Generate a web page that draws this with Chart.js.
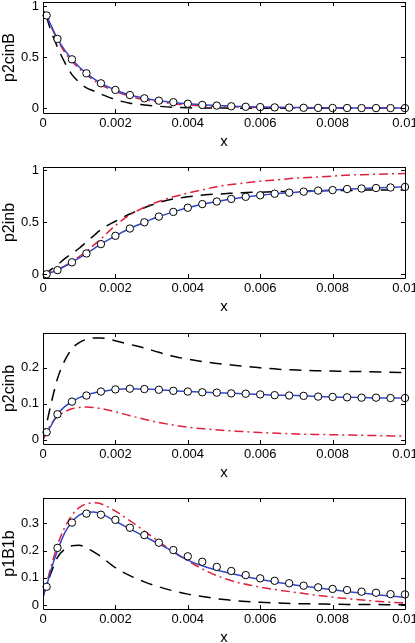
<!DOCTYPE html>
<html>
<head>
<meta charset="utf-8">
<script src="https://cdn.jsdelivr.net/npm/chart.js@4.4.1/dist/chart.umd.min.js"></script>
<style>
    html, body { margin: 0; padding: 0; background: #fff; width: 415px; height: 643px; overflow: hidden; }
    .panel { position: absolute; left: 0; width: 415px; height: 157px; }
    #p1 { top: -4px; }
    #p2 { top: 161px; }
    #p3 { top: 326.5px; }
    #p4 { top: 492px; }
</style>
</head>
<body>
<div class="panel" id="p1"><canvas id="c1"></canvas></div>
<div class="panel" id="p2"><canvas id="c2"></canvas></div>
<div class="panel" id="p3"><canvas id="c3"></canvas></div>
<div class="panel" id="p4"><canvas id="c4"></canvas></div>
<script>
// x positions of the curves and of the circle markers
var lineX = [0, 0.0001, 0.0002, 0.0004, 0.0006, 0.0008, 0.001, 0.0012, 0.0014, 0.0016, 0.002, 0.0024, 0.0028,
    0.0032, 0.0036, 0.004, 0.0045, 0.005, 0.0055, 0.006, 0.0065, 0.007, 0.0075, 0.008, 0.0085, 0.009, 0.0095, 0.01];
var markX = [0.0001, 0.0004, 0.0008, 0.0012, 0.0016, 0.002, 0.0024, 0.0028, 0.0032, 0.0036, 0.004, 0.0044, 0.0048,
    0.0052, 0.0056, 0.006, 0.0064, 0.0068, 0.0072, 0.0076, 0.008, 0.0084, 0.0088, 0.0092, 0.0096, 0.01];
var xTicks = [0, 0.002, 0.004, 0.006, 0.008, 0.01];
var xTickLabels = ['0', '0.002', '0.004', '0.006', '0.008', '0.01'];

// panel 1: p2cinB
var blue1 = [0.96, 0.91, 0.83, 0.68, 0.57, 0.48, 0.405, 0.343, 0.29, 0.245, 0.18, 0.13, 0.098, 0.075, 0.058, 0.045,
    0.033, 0.024, 0.018, 0.013, 0.01, 0.008, 0.006, 0.005, 0.004, 0.003, 0.0025, 0.002];
var red1 = [0.96, 0.9, 0.82, 0.67, 0.55, 0.46, 0.39, 0.33, 0.275, 0.23, 0.165, 0.118, 0.085, 0.062, 0.045, 0.033,
    0.023, 0.016, 0.011, 0.008, 0.006, 0.004, 0.003, 0.002, 0.0015, 0.001, 0.001, 0.001];
var black1 = [null, 0.9, 0.78, 0.6, 0.45, 0.33, 0.255, 0.2, 0.17, 0.14, 0.085, 0.05, 0.033, 0.02, 0.01, 0.005,
    0.003, 0.002, 0.001, 0.001, 0, 0, 0, 0, 0, 0, 0, 0];
var mark1 = [0.91, 0.68, 0.48, 0.343, 0.245, 0.18, 0.13, 0.098, 0.075, 0.06, 0.045, 0.033, 0.027, 0.02, 0.015,
    0.012, 0.009, 0.007, 0.005, 0.004, 0.003, 0.003, 0.002, 0.002, 0.002, 0.002];
var yTicks1 = [0, 0.5, 1];
var yTickLabels1 = ['0', '0.5', '1'];

// panel 2: p2inb
var blue2 = [0, 0.005, 0.015, 0.04, 0.075, 0.115, 0.158, 0.2, 0.245, 0.29, 0.37, 0.44, 0.5, 0.555, 0.6, 0.64,
    0.68, 0.712, 0.738, 0.76, 0.777, 0.79, 0.802, 0.81, 0.82, 0.828, 0.835, 0.84];
var red2 = [0, 0.005, 0.02, 0.045, 0.08, 0.12, 0.17, 0.22, 0.28, 0.34, 0.47, 0.57, 0.645, 0.7, 0.745, 0.78,
    0.82, 0.855, 0.875, 0.895, 0.91, 0.925, 0.935, 0.945, 0.955, 0.96, 0.965, 0.97];
var black2 = [0, 0.015, 0.04, 0.09, 0.15, 0.2, 0.25, 0.31, 0.37, 0.43, 0.51, 0.58, 0.64, 0.69, 0.725, 0.745,
    0.765, 0.775, 0.785, 0.79, 0.795, 0.8, 0.8, 0.805, 0.805, 0.81, 0.81, 0.81];
var mark2 = [0, 0.04, 0.115, 0.2, 0.29, 0.37, 0.44, 0.5, 0.555, 0.6, 0.64, 0.675, 0.7, 0.725, 0.745, 0.76,
    0.775, 0.785, 0.795, 0.805, 0.81, 0.82, 0.825, 0.83, 0.835, 0.84];
var yTicks2 = [0, 0.5, 1];
var yTickLabels2 = ['0', '0.5', '1'];

// panel 3: p2cinb
var blue3 = [0.01, 0.021, 0.035, 0.071, 0.092, 0.106, 0.117, 0.124, 0.13, 0.134, 0.14, 0.142, 0.141, 0.139, 0.136,
    0.134, 0.132, 0.13, 0.128, 0.126, 0.124, 0.123, 0.121, 0.119, 0.118, 0.117, 0.116, 0.116];
var red3 = [0, 0.02, 0.04, 0.065, 0.078, 0.086, 0.09, 0.091, 0.09, 0.087, 0.078, 0.067, 0.057, 0.048, 0.041,
    0.035, 0.03, 0.026, 0.023, 0.02, 0.018, 0.016, 0.015, 0.014, 0.013, 0.012, 0.011, 0.01];
var black3 = [0, 0.045, 0.09, 0.17, 0.22, 0.253, 0.27, 0.279, 0.283, 0.283, 0.275, 0.265, 0.255, 0.243, 0.232,
    0.224, 0.216, 0.21, 0.205, 0.2, 0.196, 0.194, 0.192, 0.191, 0.19, 0.189, 0.188, 0.187];
var mark3 = [0.021, 0.071, 0.106, 0.123, 0.134, 0.14, 0.142, 0.141, 0.139, 0.136, 0.134, 0.132, 0.131, 0.129,
    0.128, 0.126, 0.124, 0.123, 0.122, 0.12, 0.119, 0.118, 0.117, 0.117, 0.116, 0.116];
var yTicks3 = [0, 0.1, 0.2];
var yTickLabels3 = ['0', '0.1', '0.2'];

// panel 4: p1B1b
var blue4 = [0.03, 0.07, 0.12, 0.2, 0.265, 0.305, 0.33, 0.341, 0.342, 0.336, 0.308, 0.28, 0.252, 0.225, 0.196,
    0.165, 0.14, 0.122, 0.107, 0.094, 0.083, 0.073, 0.064, 0.056, 0.048, 0.041, 0.034, 0.028];
var red4 = [0.03, 0.08, 0.13, 0.22, 0.285, 0.33, 0.358, 0.372, 0.376, 0.372, 0.345, 0.31, 0.272, 0.233, 0.195,
    0.163, 0.126, 0.098, 0.079, 0.066, 0.055, 0.046, 0.037, 0.029, 0.022, 0.016, 0.011, 0.007];
var black4 = [0.03, 0.075, 0.11, 0.175, 0.205, 0.218, 0.22, 0.21, 0.195, 0.178, 0.137, 0.108, 0.085, 0.067, 0.052,
    0.04, 0.029, 0.02, 0.014, 0.01, 0.007, 0.005, 0.004, 0.003, 0.002, 0.002, 0.001, 0.001];
var mark4 = [0.067, 0.21, 0.303, 0.336, 0.332, 0.313, 0.284, 0.257, 0.229, 0.202, 0.179, 0.159, 0.14, 0.125,
    0.11, 0.098, 0.089, 0.08, 0.071, 0.065, 0.059, 0.055, 0.049, 0.045, 0.04, 0.039];
var yTicks4 = [0, 0.1, 0.2, 0.3];
var yTickLabels4 = ['0', '0.1', '0.2', '0.3'];

Chart.defaults.font.family = '"Liberation Sans", Arial, sans-serif';
Chart.defaults.font.size = 13;
Chart.defaults.color = '#000';

function pairs(xs, ys) {
    return xs.map(function (x, i) { return { x: x, y: ys[i] }; });
}

// box around the axes with small inward ticks on all four sides
var framePlugin = {
    id: 'frame',
    afterDatasetsDraw: function (chart) {
        var ctx = chart.ctx, a = chart.chartArea;
        var xs = chart.scales.x, ys = chart.scales.y;
        ctx.save();
        ctx.strokeStyle = '#000';
        ctx.lineWidth = 1;
        ctx.beginPath();
        ctx.rect(Math.round(a.left) + 0.5, Math.round(a.top) + 0.5,
            Math.round(a.right - a.left), Math.round(a.bottom - a.top));
        xs.ticks.forEach(function (t) {
            var px = Math.round(xs.getPixelForValue(t.value)) + 0.5;
            ctx.moveTo(px, a.bottom); ctx.lineTo(px, a.bottom - 4);
            ctx.moveTo(px, a.top); ctx.lineTo(px, a.top + 4);
        });
        ys.ticks.forEach(function (t) {
            var py = Math.round(ys.getPixelForValue(t.value)) + 0.5;
            ctx.moveTo(a.left, py); ctx.lineTo(a.left + 4, py);
            ctx.moveTo(a.right, py); ctx.lineTo(a.right - 4, py);
        });
        ctx.stroke();
        ctx.restore();
    }
};

function makePanel(id, yTitle, yMin, yMax, yTicks, yLabels, blue, red, black, marks) {
    var ctx = document.getElementById(id).getContext('2d');
    return new Chart(ctx, {
        type: 'line',
        data: {
            datasets: [{
                data: pairs(markX, marks),
                showLine: false,
                pointRadius: 3.7,
                pointBackgroundColor: '#fff',
                pointBorderColor: '#000',
                pointBorderWidth: 1,
                clip: false,
                order: 0
            }, {
                data: pairs(lineX, blue),
                borderColor: '#3347c8',
                borderWidth: 1.5,
                pointRadius: 0,
                cubicInterpolationMode: 'monotone',
                order: 1
            }, {
                data: pairs(lineX, red),
                borderColor: '#e0203c',
                borderWidth: 1.5,
                borderDash: [9, 4, 2, 4],
                pointRadius: 0,
                cubicInterpolationMode: 'monotone',
                order: 2
            }, {
                data: pairs(lineX, black),
                borderColor: '#000',
                borderWidth: 1.5,
                borderDash: [12, 8],
                pointRadius: 0,
                cubicInterpolationMode: 'monotone',
                order: 3
            }]
        },
        options: {
            responsive: true,
            maintainAspectRatio: false,
            animation: false,
            layout: { padding: { top: 6, right: 10, left: 0, bottom: 0 } },
            plugins: { legend: { display: false }, tooltip: { enabled: false } },
            scales: {
                x: {
                    type: 'linear',
                    min: 0,
                    max: 0.01,
                    grid: { display: false, drawTicks: false },
                    border: { display: false },
                    afterBuildTicks: function (axis) {
                        axis.ticks = xTicks.map(function (v) { return { value: v }; });
                    },
                    afterFit: function (axis) {
                        axis.height = 40;
                        axis.paddingLeft = 0;
                        axis.paddingRight = 0;
                    },
                    ticks: {
                        padding: 3,
                        maxRotation: 0,
                        autoSkip: false,
                        callback: function (v, i) { return xTickLabels[i]; }
                    },
                    title: { display: true, text: 'x', font: { size: 15 }, padding: { top: 0, bottom: 2 } }
                },
                y: {
                    min: yMin,
                    max: yMax,
                    grid: { display: false, drawTicks: false },
                    border: { display: false },
                    afterBuildTicks: function (axis) {
                        axis.ticks = yTicks.map(function (v) { return { value: v }; });
                    },
                    afterFit: function (axis) {
                        axis.width = 43;
                        axis.paddingTop = 0;
                        axis.paddingBottom = 0;
                    },
                    ticks: {
                        padding: 4,
                        autoSkip: false,
                        callback: function (v, i) { return yLabels[i]; }
                    },
                    title: { display: true, text: yTitle, font: { size: 16 }, padding: { top: 0, bottom: 0 } }
                }
            }
        },
        plugins: [framePlugin]
    });
}

makePanel('c1', 'p2cinB', -0.046, 1.042, yTicks1, yTickLabels1, blue1, red1, black1, mark1);
makePanel('c2', 'p2inb', -0.036, 1.032, yTicks2, yTickLabels2, blue2, red2, black2, mark2);
makePanel('c3', 'p2cinb', -0.0117, 0.2967, yTicks3, yTickLabels3, blue3, red3, black3, mark3);
makePanel('c4', 'p1B1b', -0.0147, 0.3934, yTicks4, yTickLabels4, blue4, red4, black4, mark4);
</script>
</body>
</html>
